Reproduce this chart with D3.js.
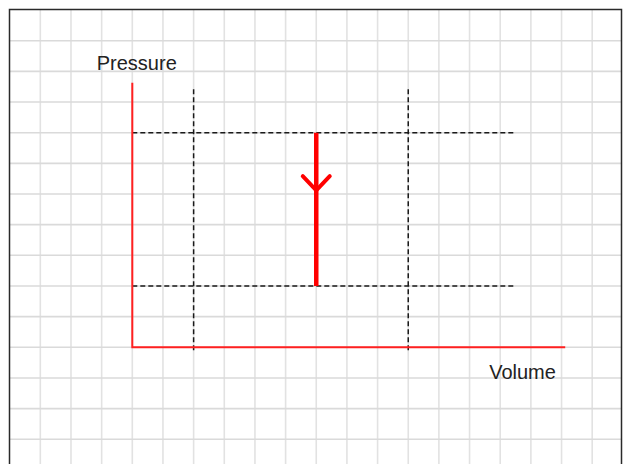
<!DOCTYPE html>
<html>
<head>
<meta charset="utf-8">
<script src="https://cdn.jsdelivr.net/npm/d3@7"></script>
<style>
  body { margin: 0; background: #fff; }
  svg { display: block; }
  text { font-family: "Liberation Sans", Arial, sans-serif; fill: #222; }
</style>
</head>
<body>
<div id="chart"></div>
<script>
// grid / process values, in grid units
var gridX = d3.range(-3, 16);        // vertical grid lines
var gridY = d3.range(-3, 11);        // horizontal grid lines
var volumes = [2, 9];                // dashed volume markers
var pressures = [2, 7];              // dashed pressure markers
var arrowVolume = 6;                 // isochoric step
var arrowFrom = 7, arrowTo = 2;
var axisLabels = ["Pressure", "Volume"];

var width = 626, height = 464;
var unit = 30.66;

var x = d3.scaleLinear().domain([0, 1]).range([132.3, 132.3 + unit]);
var y = d3.scaleLinear().domain([0, 1]).range([347.3, 347.3 - unit]);

var svg = d3.select("#chart")
  .append("svg")
    .attr("width", width)
    .attr("height", height);

// background grid
svg.append("g")
  .selectAll("line")
  .data(gridX)
  .enter()
  .append("line")
    .attr("x1", d => x(d)).attr("x2", d => x(d))
    .attr("y1", 10).attr("y2", height)
    .attr("stroke", "#e2e2e2")
    .attr("stroke-width", 1.6);

svg.append("g")
  .selectAll("line")
  .data(gridY)
  .enter()
  .append("line")
    .attr("y1", d => y(d)).attr("y2", d => y(d))
    .attr("x1", 10).attr("x2", 621)
    .attr("stroke", "#dadada")
    .attr("stroke-width", 1.6);

// frame (no bottom edge visible)
svg.append("path")
  .attr("d", "M9.5," + height + "V9.5H621.5V" + height)
  .attr("fill", "none")
  .attr("stroke", "#2a2a2a")
  .attr("stroke-width", 1.5);

// dashed guides
svg.append("g")
  .selectAll("line")
  .data(pressures)
  .enter()
  .append("line")
    .attr("x1", x(0)).attr("x2", x(12.48))
    .attr("y1", d => y(d)).attr("y2", d => y(d))
    .attr("stroke", "#1a1a1a")
    .attr("stroke-width", 1.5)
    .attr("stroke-dasharray", "5,3");

svg.append("g")
  .selectAll("line")
  .data(volumes)
  .enter()
  .append("line")
    .attr("x1", d => x(d)).attr("x2", d => x(d))
    .attr("y1", y(8.42)).attr("y2", y(-0.1))
    .attr("stroke", "#1a1a1a")
    .attr("stroke-width", 1.5)
    .attr("stroke-dasharray", "5,3");

// axes
svg.append("path")
  .attr("d", "M" + x(0) + "," + y(8.63) + "V" + y(0) + "H" + x(14.12))
  .attr("fill", "none")
  .attr("stroke", "#ff2020")
  .attr("stroke-width", 2);

// process arrow
svg.append("line")
  .attr("x1", x(arrowVolume)).attr("x2", x(arrowVolume))
  .attr("y1", y(arrowFrom)).attr("y2", y(arrowTo))
  .attr("stroke", "#ff0000")
  .attr("stroke-width", 4.5);

var tipP = 5.12;
svg.append("path")
  .attr("d", d3.line()([
    [x(arrowVolume - 0.44), y(tipP + 0.46)],
    [x(arrowVolume), y(tipP)],
    [x(arrowVolume + 0.44), y(tipP + 0.46)]
  ]))
  .attr("fill", "none")
  .attr("stroke", "#ff0000")
  .attr("stroke-width", 4)
  .attr("stroke-linecap", "round");

// labels
svg.append("text")
  .attr("x", x(-1.16)).attr("y", y(9.05))
  .attr("font-size", 20)
  .text(axisLabels[0]);

svg.append("text")
  .attr("x", x(11.64)).attr("y", y(-1.03))
  .attr("font-size", 20)
  .text(axisLabels[1]);
</script>
</body>
</html>
